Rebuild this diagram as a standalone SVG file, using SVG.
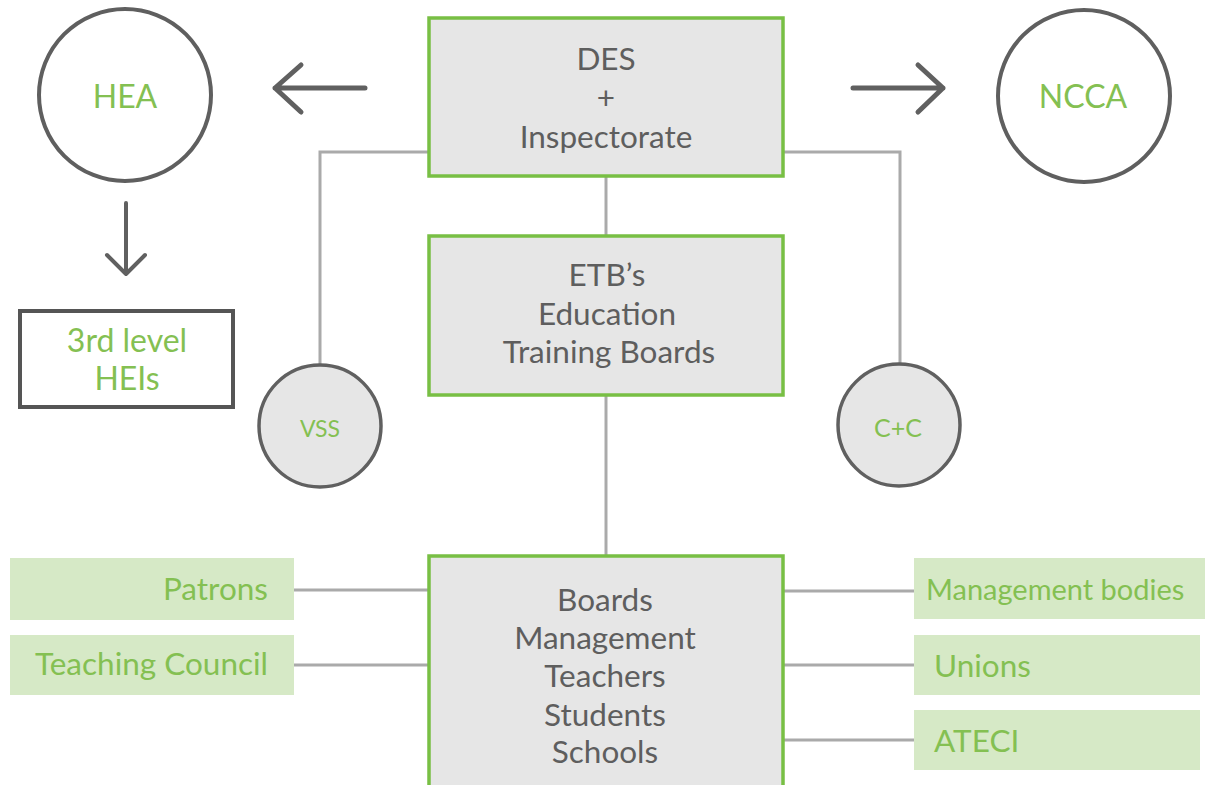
<svg xmlns="http://www.w3.org/2000/svg" width="1205" height="785" viewBox="0 0 1205 785">
<style>
.box{fill:#e6e6e6;stroke:#78bf44;stroke-width:3.5}
.gtxt{font-family:Lato,"Open Sans","Liberation Sans",sans-serif;font-size:31.5px;fill:#5e5e5e;text-anchor:middle}
.ltxt{font-family:Lato,"Open Sans","Liberation Sans",sans-serif;font-size:31.5px;fill:#84c052}
.ring{fill:#fff;stroke:#5f5f5f;stroke-width:4}
.small{fill:#e6e6e6;stroke:#606060;stroke-width:3.5}
.tag{fill:#d6e9c6}
.conn{stroke:#aaaaaa;stroke-width:3;fill:none}
.arrow{stroke:#606060;stroke-width:5;fill:none;stroke-linecap:round;stroke-linejoin:round}
</style>
<rect width="1205" height="785" fill="#fff"/>
<g id="connectors">
<line class="conn" x1="606" y1="176" x2="606" y2="235"/>
<line class="conn" x1="606" y1="395" x2="606" y2="555"/>
<polyline class="conn" points="429,152 320,152 320,365"/>
<polyline class="conn" points="783,152 900,152 900,364"/>
<line class="conn" x1="294" y1="590" x2="429" y2="590"/>
<line class="conn" x1="294" y1="665" x2="429" y2="665"/>
<line class="conn" x1="783" y1="591" x2="914" y2="591"/>
<line class="conn" x1="783" y1="665" x2="914" y2="665"/>
<line class="conn" x1="783" y1="740" x2="914" y2="740"/>
<path class="arrow" d="M365,88 H275 M301,65 L275,88 L301,112"/>
<path class="arrow" d="M853,88 H943 M918,65 L943,88 L918,112"/>
<path class="arrow" style="stroke-width:4" d="M126,203 V274 M107,255 L126,274 L145,255"/>
</g>
<g id="des">
<rect class="box" x="429" y="18" width="354" height="158"/>
<text class="gtxt" x="606" y="70">DES</text>
<text class="gtxt" x="606" y="109">+</text>
<text class="gtxt" x="606" y="148">Inspectorate</text>
</g>
<g id="etb">
<rect class="box" x="429" y="236" width="354" height="159"/>
<text class="gtxt" x="607" y="286">ETB’s</text>
<text class="gtxt" x="607" y="325">Education</text>
<text class="gtxt" x="609" y="363">Training Boards</text>
</g>
<g id="schools">
<rect class="box" x="429" y="556" width="354" height="240"/>
<text class="gtxt" x="605" y="611">Boards</text>
<text class="gtxt" x="605" y="649">Management</text>
<text class="gtxt" x="605" y="687">Teachers</text>
<text class="gtxt" x="605" y="726">Students</text>
<text class="gtxt" x="605" y="763">Schools</text>
</g>
<g id="hea">
<circle class="ring" cx="125" cy="95" r="86"/>
<text class="ltxt" x="125" y="108" text-anchor="middle" style="font-size:32px">HEA</text>
</g>
<g id="ncca">
<circle class="ring" cx="1084" cy="96" r="86"/>
<text class="ltxt" x="1083" y="108" text-anchor="middle" style="font-size:32px">NCCA</text>
</g>
<g id="heis">
<rect x="20" y="311" width="213" height="96" fill="#fff" stroke="#555" stroke-width="4"/>
<text class="ltxt" x="127" y="352" text-anchor="middle" style="font-size:32px">3rd level</text>
<text class="ltxt" x="127" y="390" text-anchor="middle" style="font-size:32px">HEIs</text>
</g>
<g id="vss">
<circle class="small" cx="320" cy="426" r="61"/>
<text class="ltxt" x="320" y="437" text-anchor="middle" style="font-size:23px">VSS</text>
</g>
<g id="cc">
<circle class="small" cx="899" cy="425" r="61"/>
<text class="ltxt" x="898" y="437" text-anchor="middle" style="font-size:25px">C+C</text>
</g>
<g id="patrons">
<rect class="tag" x="10" y="558" width="284" height="62"/>
<text class="ltxt" x="268" y="600" text-anchor="end">Patrons</text>
</g>
<g id="teaching">
<rect class="tag" x="10" y="635" width="284" height="60"/>
<text class="ltxt" x="268" y="675" text-anchor="end">Teaching Council</text>
</g>
<g id="mgmt">
<rect class="tag" x="914" y="558" width="291" height="61"/>
<text class="ltxt" x="926" y="600" style="font-size:29px">Management bodies</text>
</g>
<g id="unions">
<rect class="tag" x="914" y="635" width="286" height="60"/>
<text class="ltxt" x="934" y="677">Unions</text>
</g>
<g id="ateci">
<rect class="tag" x="914" y="710" width="286" height="60"/>
<text class="ltxt" x="934" y="752">ATECI</text>
</g>
</svg>
